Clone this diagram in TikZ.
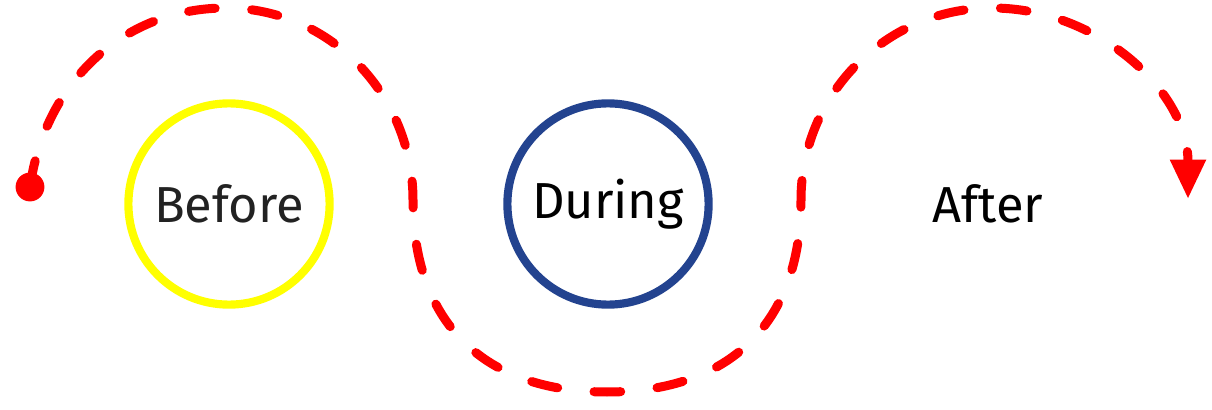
\documentclass[tikz,border=0pt]{standalone}
\usepackage{fontspec}
\setmainfont{Fira Sans}
\usepackage{xcolor}
\usetikzlibrary{arrows.meta}
\definecolor{routered}{HTML}{FF0000}
\definecolor{beforeyellow}{HTML}{FFFF00}
\definecolor{duringblue}{HTML}{23438F}
\definecolor{labelgray}{HTML}{222222}

\begin{document}
\begin{tikzpicture}[
    x=0.025cm, y=0.025cm,
    stage/.style={circle, draw, line width=5.8pt, minimum size=5.03cm,
                  inner sep=0pt, text=black,
                  font=\fontsize{36}{38}\selectfont},
    route/.style={draw=routered, line width=6.4pt, line cap=round,
                  dash pattern=on 19pt off 26pt},
    startdot/.style={circle, fill=routered, inner sep=0pt, minimum size=0.72cm}
]
\useasboundingbox (0,0) rectangle (1212,409);

\node[stage, draw=beforeyellow, text=labelgray] (before) at (229,205) {Before};
\node[stage, draw=duringblue] (during) at (608,205) {During};
\node[stage, draw=none] (after) at (988,205) {After};

% the route weaving round the stages
\node[startdot] (start) at (30,222) {};
\coordinate (top1) at (226,401);
\coordinate (mid1) at (413,209);
\coordinate (bot) at (607,17);
\coordinate (mid2) at (801,209);
\coordinate (top2) at (992,401);
\coordinate (finish) at (1188,210);

\draw[route, -{Triangle[length=28pt, width=24pt]}]
    (start.center) to[out=82, in=180] (top1)
    to[out=0, in=90] (mid1)
    to[out=-90, in=180, looseness=1.15] (bot)
    to[out=0, in=-90, looseness=1.15] (mid2)
    to[out=90, in=180] (top2)
    to[out=0, in=90] (finish);
\end{tikzpicture}
\end{document}
